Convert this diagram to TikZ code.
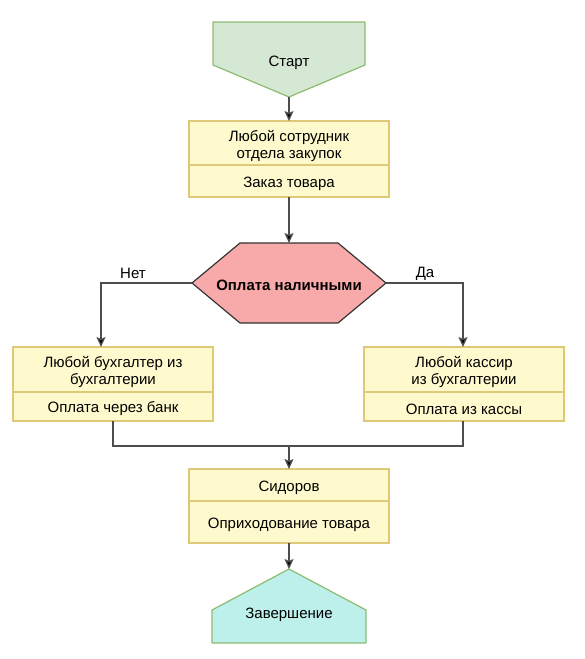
\documentclass[tikz,border=0pt]{standalone}
\usepackage{fontspec}
\setmainfont{Liberation Sans}
\usetikzlibrary{arrows.meta}
\usetikzlibrary{positioning}
\definecolor{startFill}{HTML}{D5E8D4}
\definecolor{endFill}{HTML}{BDF0EB}
\definecolor{termBorder}{HTML}{8DBB72}
\definecolor{boxFill}{HTML}{FFFACD}
\definecolor{boxBorder}{HTML}{DFC878}
\definecolor{decFill}{HTML}{F8AAAA}
\definecolor{decBorder}{HTML}{333333}
\definecolor{lineGray}{HTML}{4D4D4D}
\newcommand{\lineColor}{lineGray}
\newcommand{\drawRole}[6]{
	\node[roleHead, minimum height=#3] (#1-head) at (#2) {};
	\node[roleTask, minimum height=#4, below=0pt of #1-head] (#1) {};
	\node[txt] at (#1-head) {#5};
	\node[txt] at (#1) {#6};
}
\tikzset{roleHead/.style = {draw=boxBorder, fill=boxFill, line width=1.2pt, minimum width=200pt, outer sep=0pt}}
\tikzset{roleTask/.style = {roleHead}}
\tikzset{txt/.style = {yshift=-2.5pt, align=center}}
\tikzset{terminal/.style = {draw=termBorder, line width=1.2pt, line join=round}}
\tikzset{decision/.style = {draw=decBorder, fill=decFill, line width=1.2pt}}
\tikzset{flow/.style = {draw=\lineColor, line width=1.3pt, -{Stealth[length=10pt, width=9pt, inset=2pt, fill=black]}}}
\tikzset{link/.style = {draw=\lineColor, line width=1.3pt}}

\begin{document}
\begin{tikzpicture}[x=1pt, y=-1pt, font=\fontsize{15}{17}\selectfont]
	\useasboundingbox (0,0) rectangle (584,659);

	% start
	\coordinate (startTip) at (289,97);
	\filldraw[terminal, fill=startFill] (213,22) -- (365,22) -- (365,65) -- (startTip) -- (213,65) -- cycle;
	\node[txt] (start) at (289,60) {Старт};

	% roles and tasks
	\drawRole{order}{289,143}{44pt}{32pt}{Любой сотрудник\\отдела закупок}{Заказ товара}
	\drawRole{bank}{113,369.5}{45pt}{29pt}{Любой бухгалтер из\\бухгалтерии}{Оплата через банк}
	\drawRole{till}{464,369.5}{45pt}{29pt}{Любой кассир\\из бухгалтерии}{Оплата из кассы}
	\drawRole{income}{289,485}{32pt}{42pt}{Сидоров}{Оприходование товара}

	% decision
	\coordinate (cashW) at (192,283);
	\coordinate (cashE) at (386,283);
	\coordinate (cashN) at (289,243);
	\filldraw[decision] (cashW) -- (240,243) -- (cashN) -- (338,243) -- (cashE) -- (338,323) -- (240,323) -- cycle;
	\node[txt] (cash) at (289,283) {\textbf{Оплата наличными}};

	% end
	\coordinate (endTip) at (289,569);
	\filldraw[terminal, fill=endFill] (endTip) -- (366,610) -- (366,643) -- (212,643) -- (212,610) -- cycle;
	\node[txt] (finish) at (289,612) {Завершение};

	% connectors
	\coordinate (noBend) at (101,283);
	\coordinate (yesBend) at (463,283);
	\coordinate (merge) at (289,446);
	\draw[flow] (startTip) -- (order-head.north);
	\draw[flow] (order.south) -- (cashN);
	\draw[flow] (cashW) -- (noBend) -- (noBend |- bank-head.north);
	\draw[flow] (cashE) -- (yesBend) -- (yesBend |- till-head.north);
	\draw[link] (bank.south) |- (merge);
	\draw[link] (till.south -| yesBend) |- (merge);
	\draw[flow] (merge) -- (income-head.north);
	\draw[flow] (income.south) -- (endTip);

	\node[txt] (no) at (133,271) {Нет};
	\node[txt] (yes) at (425,271) {Да};
\end{tikzpicture}
\end{document}
